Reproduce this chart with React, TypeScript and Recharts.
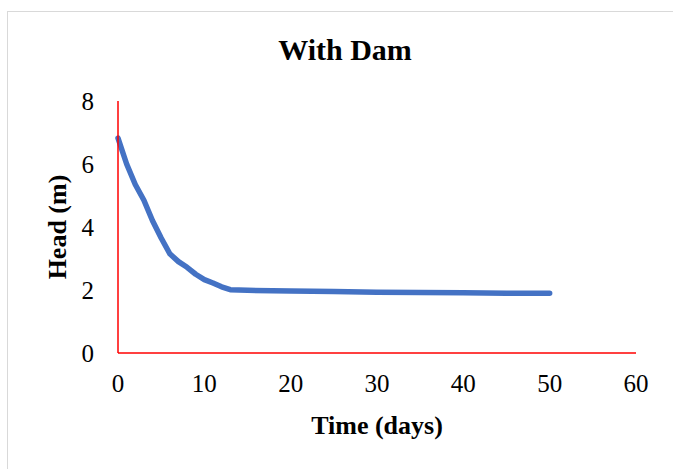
import { LineChart, Line, XAxis, YAxis } from "recharts";

const days = [0, 1, 2, 3, 4, 5, 6, 7, 8, 9, 10, 11, 12, 13, 15, 20, 25, 30, 35, 40, 45, 50];
const head = [6.82, 6.0, 5.35, 4.85, 4.2, 3.65, 3.15, 2.9, 2.72, 2.5, 2.33, 2.22, 2.1, 2.01, 1.99, 1.97, 1.95, 1.93, 1.92, 1.91, 1.9, 1.9];
const xTicks = [0, 10, 20, 30, 40, 50, 60];
const yTicks = [0, 2, 4, 6, 8];

const data = days.map((d, i) => ({ day: d, head: head[i] }));

const font = '"Times New Roman", "Liberation Serif", serif';

export default function App() {
  return (
    <div
      style={{
        position: "fixed",
        left: 0,
        top: 0,
        width: 673,
        height: 469,
        overflow: "hidden",
        background: "#fff",
        fontFamily: font,
      }}
    >
      <div
        style={{
          position: "absolute",
          left: 7,
          top: 11,
          width: 700,
          height: 500,
          border: "1px solid #d9d9d9",
        }}
      />
      <div
        style={{
          position: "absolute",
          left: 0,
          width: 690,
          top: 31,
          textAlign: "center",
          fontSize: 30,
          fontWeight: "bold",
          lineHeight: "38px",
        }}
      >
        With Dam
      </div>
      <div style={{ position: "absolute", left: 0, top: 0 }}>
        <LineChart
          width={673}
          height={469}
          data={data}
          margin={{ top: 101, right: 37, left: 58, bottom: 66 }}
        >
          <XAxis
            dataKey="day"
            type="number"
            domain={[0, 60]}
            ticks={xTicks}
            height={50}
            axisLine={{ stroke: "#ff0000", strokeWidth: 1.5 }}
            tickLine={false}
            tickSize={0}
            tickMargin={21}
            tick={{ fill: "#000", fontSize: 25, fontFamily: font }}
          />
          <YAxis
            type="number"
            domain={[0, 8]}
            ticks={yTicks}
            width={60}
            axisLine={{ stroke: "#ff0000", strokeWidth: 1.5 }}
            tickLine={false}
            tickSize={0}
            tickMargin={24}
            tick={{ fill: "#000", fontSize: 25, fontFamily: font }}
          />
          <Line
            dataKey="head"
            type="linear"
            stroke="#4472C4"
            strokeWidth={5.5}
            strokeLinecap="round"
            strokeLinejoin="round"
            dot={false}
            isAnimationActive={false}
          />
        </LineChart>
      </div>
      <div
        style={{
          position: "absolute",
          left: 277,
          width: 200,
          top: 410,
          textAlign: "center",
          fontSize: 26,
          fontWeight: "bold",
          lineHeight: "32px",
        }}
      >
        Time (days)
      </div>
      <div
        style={{
          position: "absolute",
          left: 58 - 100,
          width: 200,
          top: 227 - 16,
          textAlign: "center",
          fontSize: 26,
          fontWeight: "bold",
          lineHeight: "32px",
          transform: "rotate(-90deg)",
        }}
      >
        Head (m)
      </div>
    </div>
  );
}
